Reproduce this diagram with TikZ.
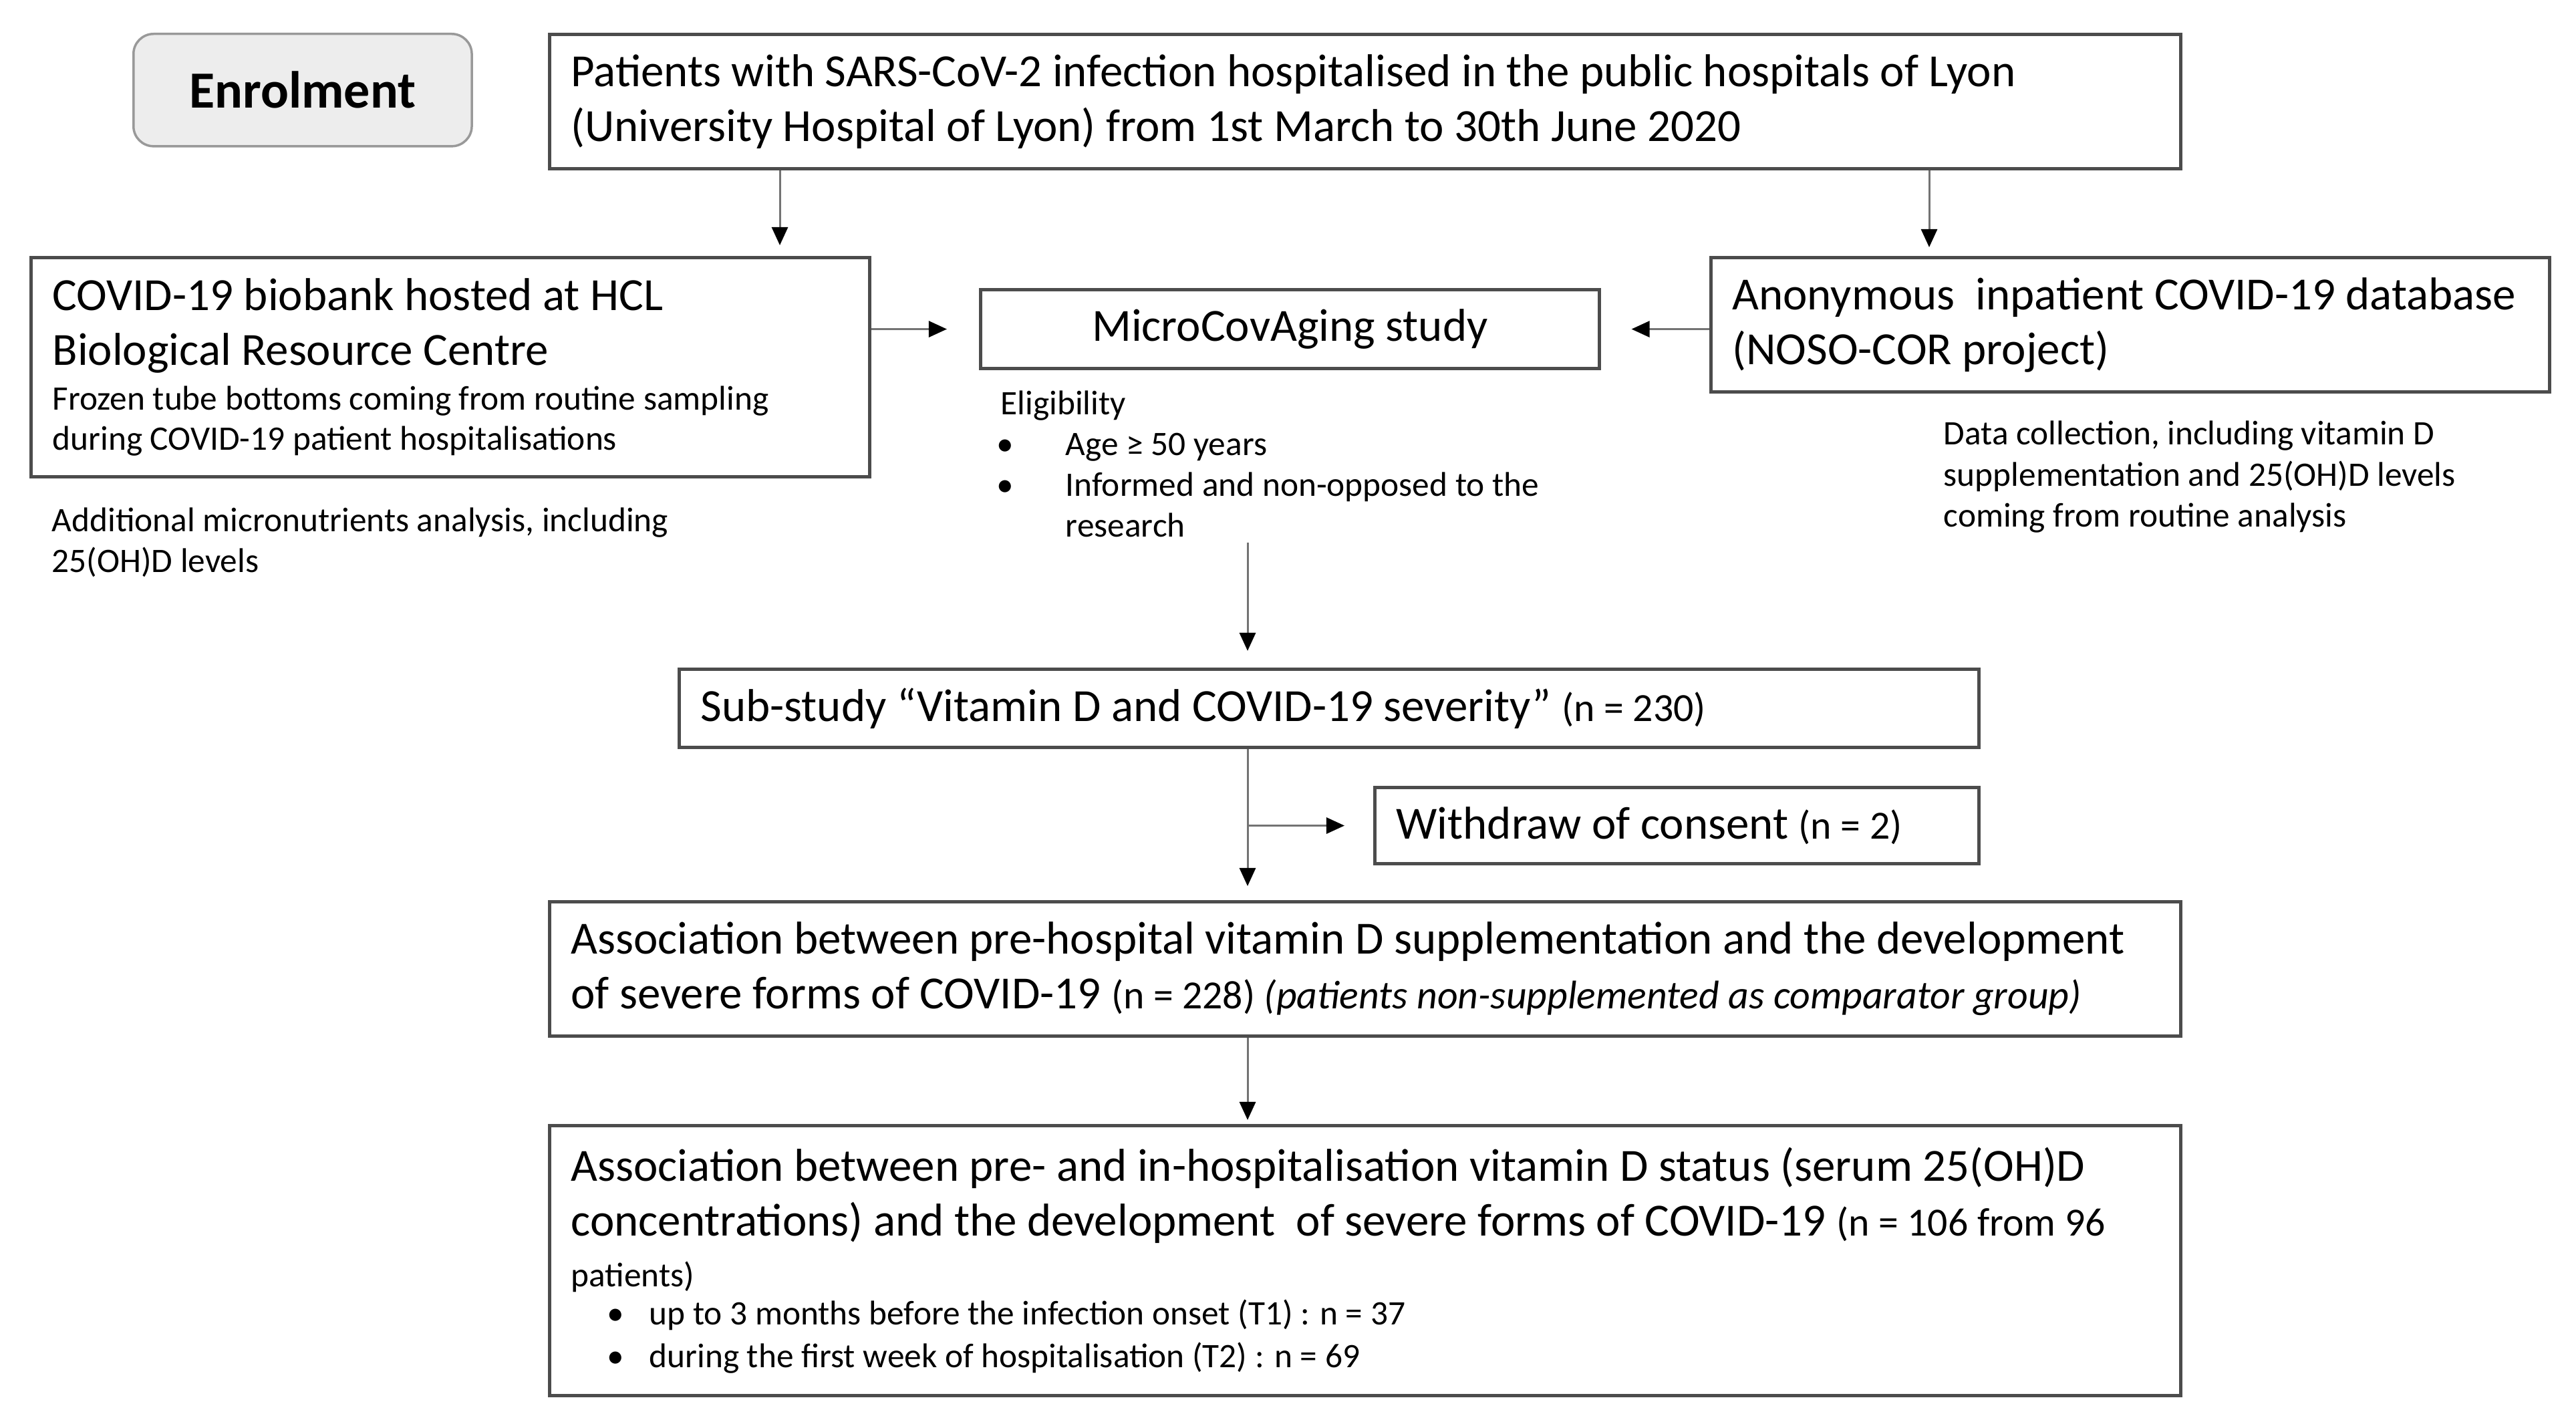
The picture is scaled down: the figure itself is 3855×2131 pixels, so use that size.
\documentclass[tikz,border=0pt]{standalone}
\usepackage{fontspec}
\setmainfont{Carlito}
\usetikzlibrary{arrows.meta}
\newcommand{\mainsz}{\fontsize{19.6pt}{23.3pt}\selectfont}
\newcommand{\smallsz}{\fontsize{14.6pt}{17.4pt}\selectfont}
\newcommand{\nsz}{\fontsize{17pt}{20pt}\selectfont}
\newcommand{\bigsz}{\fontsize{22.2pt}{26pt}\selectfont}
\newcommand{\nsp}{\spaceskip=0pt\xspaceskip=0pt\relax}
\begin{document}
\begin{tikzpicture}[x=0.01cm, y=-0.01cm,
  box/.style={draw=black!70, line width=0.05cm, inner xsep=0.32cm, inner ysep=0pt, anchor=north west, align=left, font=\mainsz},
  arr/.style={draw=black!55, line width=0.03cm, -{Triangle[length=0.27cm,width=0.24cm,color=black]}},
  note/.style={inner sep=0pt, anchor=base west, font=\smallsz}]
\useasboundingbox (0,0) rectangle (3855,2131);

\node[draw=black!40, fill=black!7, line width=0.035cm, rounded corners=0.3cm, minimum width=5.06cm, minimum height=1.68cm, anchor=north west, font=\bigsz\bfseries] (enrol) at (198,49) {Enrolment};

\node[box, text width=23.76cm, minimum height=2.01cm] (top) at (820,49) {\nsp Patients with SARS-CoV-2 infection hospitalised in the public hospitals of Lyon\\(University Hospital of Lyon) from 1st March to 30th June 2020};

\node[box, text width=11.90cm, minimum height=3.28cm] (bio) at (44,383) {\nsp COVID-19 biobank hosted at HCL\\Biological Resource Centre\\[-4.3pt]{\smallsz Frozen tube bottoms coming from routine sampling}\\[-6.0pt]{\smallsz during COVID-19 patient hospitalisations}};

\node[box, align=center, minimum width=9.25cm, minimum height=1.18cm, inner xsep=0pt] (micro) at (1465,431) {MicroCovAging study};

\node[box, text width=11.90cm, minimum height=2.01cm] (noso) at (2558,383) {\nsp Anonymous\ \ inpatient COVID-19 database\\(NOSO-COR project)};

\node[box, text width=18.80cm, minimum height=1.17cm] (sub) at (1014,999) {\nsp Sub-study “Vitamin D and COVID-19 severity” {\nsz (n = 230)}};

\node[box, text width=8.39cm, minimum height=1.14cm] (wd) at (2055,1176) {\nsp Withdraw of consent {\nsz (n = 2)}};

\node[box, text width=23.76cm, minimum height=2.01cm] (as1) at (820,1347) {\nsp Association between pre-hospital vitamin D supplementation and the development\\of severe forms of COVID-19 {\nsz (n = 228) \itshape(patients non-supplemented as comparator group)}};

\node[box, text width=23.76cm, minimum height=4.04cm] (as2) at (820,1682) {\nsp Association between pre- and in-hospitalisation vitamin D status (serum 25(OH)D\\concentrations) and the development\ \ of severe forms of COVID-19 {\nsz (n = 106 from 96}\\[-1.7pt]{\smallsz patients)}\\[-7.1pt]{\smallsz\makebox[1.17cm][l]{\hspace{0.54cm}•}up to 3 months before the infection onset (T1) : n = 37}\\[-5.1pt]{\smallsz\makebox[1.17cm][l]{\hspace{0.54cm}•}during the first week of hospitalisation (T2) : n = 69}};

\node[note] (addl) at (77,795) {\begin{tabular}[t]{@{}l@{}}Additional micronutrients analysis, including\\25(OH)D levels\end{tabular}};

\node[note] (elig) at (1497,620) {\begin{tabular}[t]{@{}l@{}}Eligibility\\ \makebox[0.97cm][l]{\hspace{-0.06cm}•}Age ≥ 50 years\\ \makebox[0.97cm][l]{\hspace{-0.06cm}•}Informed and non-opposed to the\\ \hspace*{0.97cm}research\end{tabular}};

\node[note] (data) at (2908,666) {\begin{tabular}[t]{@{}l@{}}Data collection, including vitamin D\\supplementation and 25(OH)D levels\\coming from routine analysis\end{tabular}};

\coordinate (xa) at (1167,0);
\coordinate (xb) at (2887,0);
\coordinate (xs) at (1867,0);
\coordinate (eligend) at (1867,812);
\draw[arr, shorten >=0.16cm] (top.south -| xa) -- (bio.north -| xa);
\draw[arr, shorten >=0.13cm] (top.south -| xb) -- (noso.north -| xb);
\draw[arr, shorten >=0.48cm] (bio.east |- micro.west) -- (micro.west);
\draw[arr, shorten >=0.46cm] (noso.west |- micro.east) -- (micro.east);
\draw[arr, shorten >=0.25cm] (eligend) -- (sub.north -| eligend);
\draw[arr, shorten >=0.21cm] (sub.south -| xs) -- (as1.north -| xs);
\draw[arr, shorten >=0.43cm] (wd.west -| xs) -- (wd.west);
\draw[arr, shorten >=0.06cm] (as1.south -| xs) -- (as2.north -| xs);
\end{tikzpicture}
\end{document}
